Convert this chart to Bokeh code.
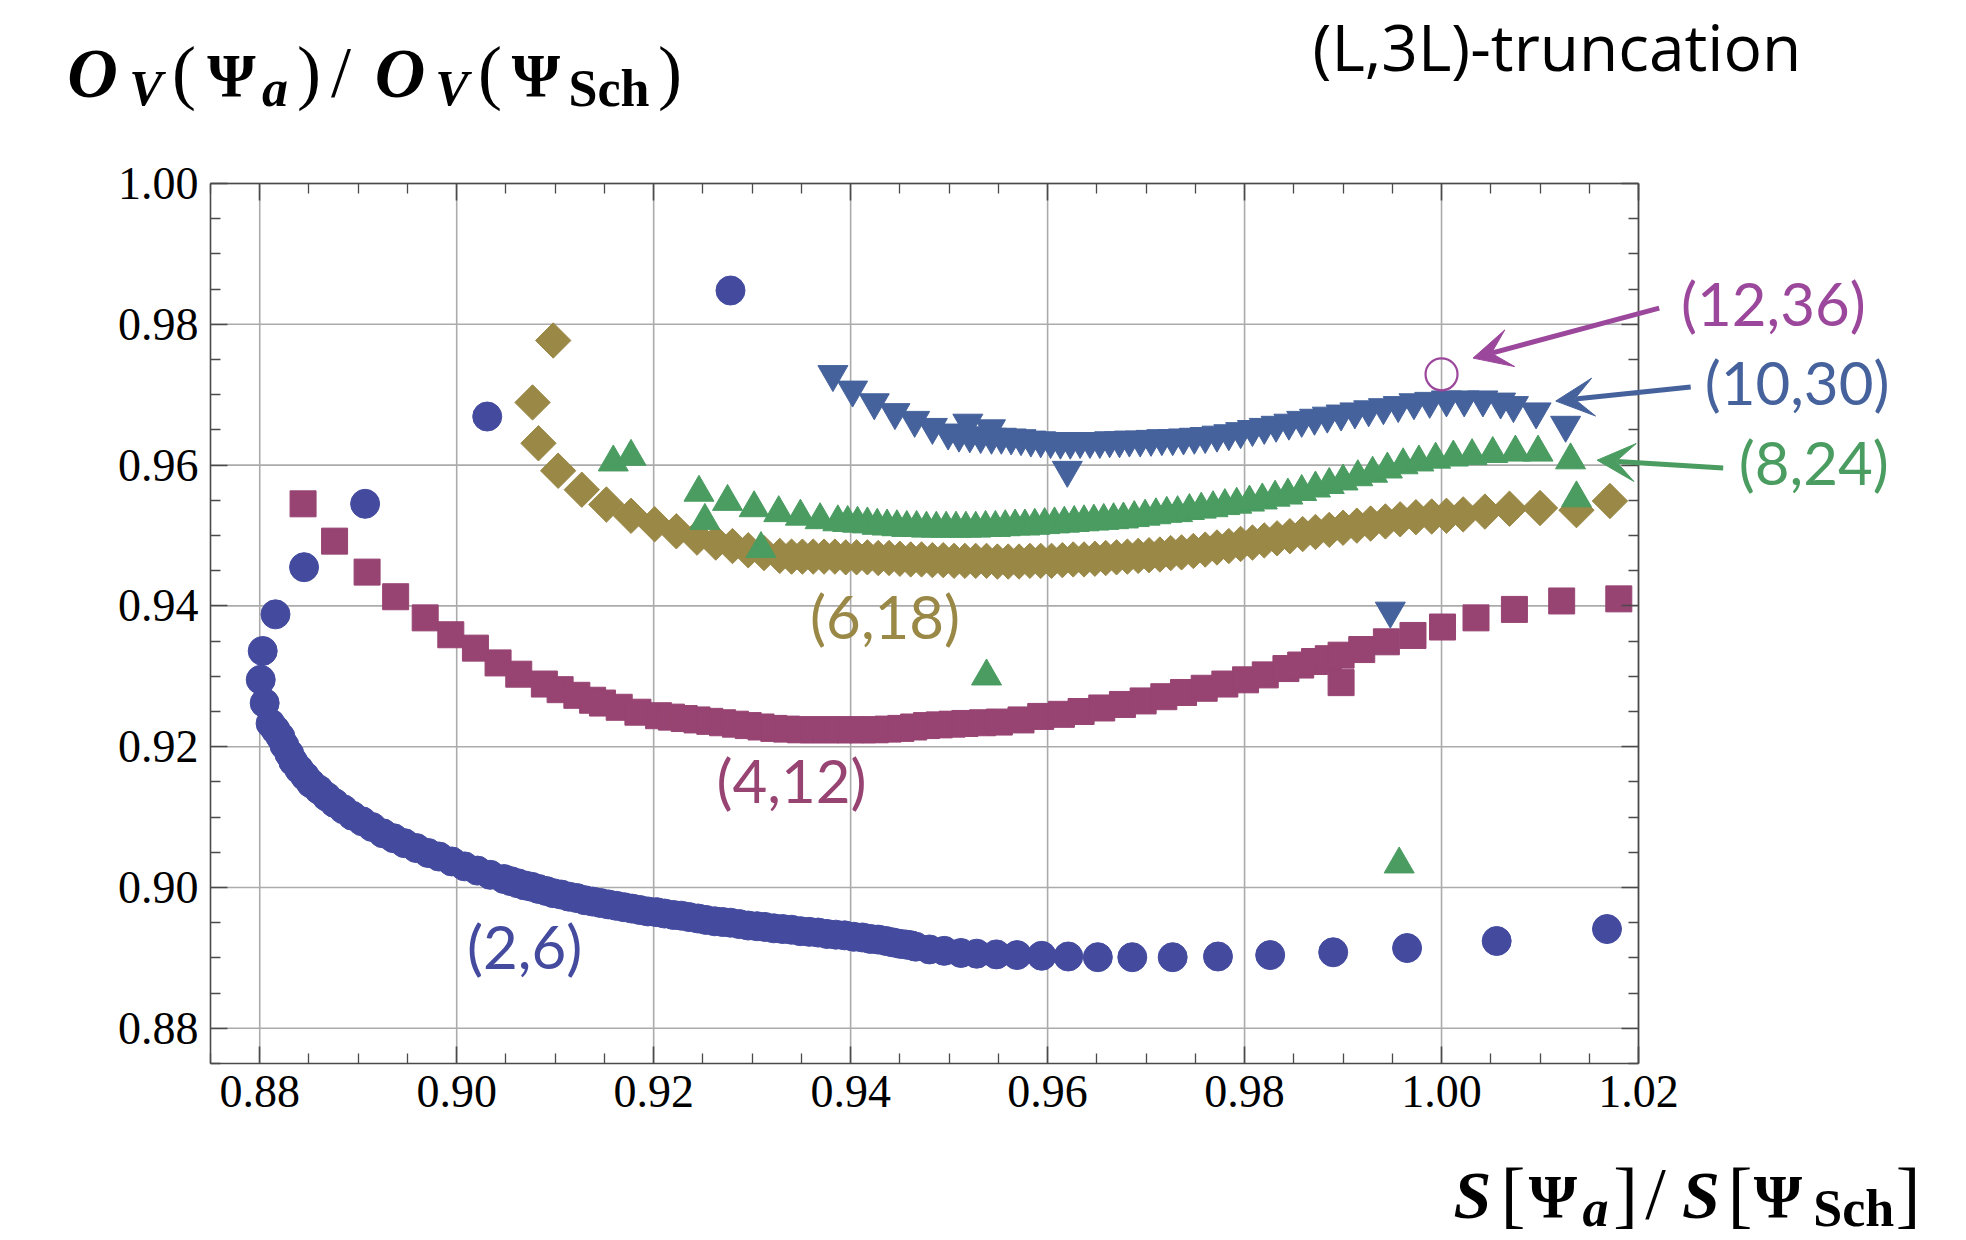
import numpy as np
from bokeh.plotting import figure
from bokeh.models import (FixedTicker, PrintfTickFormatter, LinearAxis, Label, Arrow,
                          VeeHead, Range1d)
from bokeh.embed import file_html
from bokeh.resources import INLINE

# ---------------- data ----------------
x_2_6 = [0.9278, 0.9031, 0.8907, 0.8845, 0.8816, 0.8803, 0.8801, 0.8805, 0.8811,
         0.8816, 0.8821, 0.8825, 0.8830, 0.8834, 0.8840, 0.8846, 0.8852, 0.8860, 0.8868,
         0.8876, 0.8885, 0.8894, 0.8904, 0.8914, 0.8925, 0.8936, 0.8947, 0.8959, 0.8971,
         0.8982, 0.8995, 0.9008, 0.9021, 0.9034, 0.9048, 0.9055, 0.9062, 0.9069, 0.9076,
         0.9083, 0.9091, 0.9098, 0.9106, 0.9114, 0.9122, 0.9130, 0.9138, 0.9146, 0.9154,
         0.9162, 0.9170, 0.9178, 0.9186, 0.9194, 0.9203, 0.9211, 0.9220, 0.9228, 0.9236,
         0.9245, 0.9253, 0.9262, 0.9270, 0.9278, 0.9287, 0.9296, 0.9305, 0.9313, 0.9322,
         0.9331, 0.9340, 0.9349, 0.9358, 0.9367, 0.9376, 0.9385, 0.9394, 0.9403, 0.9412,
         0.9420, 0.9428, 0.9436, 0.9443, 0.9450, 0.9456, 0.9461, 0.9466, 0.9480, 0.9495,
         0.9512, 0.9528, 0.9548, 0.9569, 0.9594, 0.9621, 0.9651, 0.9686, 0.9727, 0.9773,
         0.9826, 0.9890, 0.9965, 1.0056, 1.0168]
y_2_6 = [0.9848, 0.9669, 0.9545, 0.9455, 0.9388, 0.9336, 0.9295, 0.9262, 0.9233,
         0.9224, 0.9214, 0.9202, 0.9190, 0.9179, 0.9168, 0.9158, 0.9148, 0.9139, 0.9129,
         0.9120, 0.9111, 0.9102, 0.9094, 0.9086, 0.9077, 0.9070, 0.9063, 0.9056, 0.9049,
         0.9044, 0.9037, 0.9030, 0.9024, 0.9018, 0.9012, 0.9009, 0.9006, 0.9003, 0.9001,
         0.8998, 0.8995, 0.8992, 0.8990, 0.8987, 0.8985, 0.8982, 0.8980, 0.8978, 0.8976,
         0.8974, 0.8972, 0.8970, 0.8968, 0.8966, 0.8965, 0.8963, 0.8961, 0.8960, 0.8958,
         0.8956, 0.8954, 0.8952, 0.8951, 0.8950, 0.8948, 0.8946, 0.8945, 0.8944, 0.8942,
         0.8941, 0.8940, 0.8938, 0.8937, 0.8936, 0.8934, 0.8933, 0.8932, 0.8930, 0.8929,
         0.8927, 0.8926, 0.8924, 0.8922, 0.8920, 0.8919, 0.8918, 0.8916, 0.8912, 0.8910,
         0.8907, 0.8906, 0.8905, 0.8904, 0.8903, 0.8902, 0.8901, 0.8901, 0.8901, 0.8902,
         0.8904, 0.8908, 0.8914, 0.8924, 0.8941]

x_4_12 = [0.8844, 0.8876, 0.8909, 0.8938, 0.8968, 0.8994, 0.9019, 0.9042, 0.9063,
          0.9089, 0.9105, 0.9122, 0.9138, 0.9148, 0.9165, 0.9184, 0.9205, 0.9218, 0.9231,
          0.9244, 0.9257, 0.9270, 0.9283, 0.9296, 0.9309, 0.9322, 0.9335, 0.9349, 0.9362,
          0.9375, 0.9388, 0.9400, 0.9412, 0.9425, 0.9438, 0.9451, 0.9464, 0.9477, 0.9490,
          0.9503, 0.9516, 0.9534, 0.9551, 0.9573, 0.9593, 0.9614, 0.9634, 0.9655, 0.9676,
          0.9697, 0.9718, 0.9738, 0.9759, 0.9780, 0.9801, 0.9821, 0.9842, 0.9857, 0.9871,
          0.9885, 0.9898, 0.9919, 0.9944, 0.9971, 1.0001, 1.0035, 1.0074, 1.0122, 1.0180,
          0.9898]
y_4_12 = [0.9545, 0.9492, 0.9448, 0.9413, 0.9383, 0.9359, 0.9340, 0.9319, 0.9303,
          0.9289, 0.9281, 0.9273, 0.9266, 0.9262, 0.9256, 0.9249, 0.9244, 0.9242, 0.9240,
          0.9238, 0.9236, 0.9234, 0.9232, 0.9230, 0.9228, 0.9226, 0.9225, 0.9224, 0.9224,
          0.9224, 0.9224, 0.9224, 0.9224, 0.9224, 0.9225, 0.9226, 0.9228, 0.9230, 0.9231,
          0.9232, 0.9233, 0.9234, 0.9235, 0.9238, 0.9243, 0.9246, 0.9250, 0.9255, 0.9260,
          0.9265, 0.9271, 0.9277, 0.9283, 0.9289, 0.9295, 0.9302, 0.9311, 0.9316, 0.9321,
          0.9325, 0.9330, 0.9338, 0.9349, 0.9358, 0.9370, 0.9383, 0.9395, 0.9407, 0.9410,
          0.9291]

x_6_18 = [0.9098, 0.9077, 0.9083, 0.9103, 0.9127, 0.9152, 0.9177, 0.9201, 0.9223,
          0.9244, 0.9263, 0.9280, 0.9296, 0.9312, 0.9328, 0.9340, 0.9351, 0.9362, 0.9373,
          0.9384, 0.9395, 0.9406, 0.9417, 0.9428, 0.9439, 0.9450, 0.9461, 0.9472, 0.9483,
          0.9494, 0.9505, 0.9516, 0.9527, 0.9538, 0.9549, 0.9560, 0.9571, 0.9582, 0.9593,
          0.9604, 0.9615, 0.9626, 0.9637, 0.9648, 0.9659, 0.9670, 0.9681, 0.9692, 0.9703,
          0.9714, 0.9725, 0.9736, 0.9748, 0.9760, 0.9772, 0.9784, 0.9796, 0.9808, 0.9820,
          0.9833, 0.9846, 0.9859, 0.9872, 0.9886, 0.9900, 0.9914, 0.9928, 0.9943, 0.9958,
          0.9974, 0.9990, 1.0005, 1.0022, 1.0044, 1.0069, 1.0100, 1.0137, 1.0171]
y_6_18 = [0.9777, 0.9689, 0.9631, 0.9592, 0.9565, 0.9544, 0.9528, 0.9516, 0.9506,
          0.9497, 0.9490, 0.9485, 0.9479, 0.9475, 0.9471, 0.9470, 0.9470, 0.9470, 0.9470,
          0.9470, 0.9469, 0.9469, 0.9469, 0.9468, 0.9468, 0.9467, 0.9466, 0.9466, 0.9465,
          0.9465, 0.9464, 0.9464, 0.9464, 0.9464, 0.9463, 0.9463, 0.9463, 0.9464, 0.9464,
          0.9464, 0.9465, 0.9466, 0.9466, 0.9467, 0.9468, 0.9469, 0.9470, 0.9471, 0.9472,
          0.9473, 0.9475, 0.9476, 0.9478, 0.9480, 0.9483, 0.9485, 0.9488, 0.9490, 0.9493,
          0.9496, 0.9499, 0.9502, 0.9505, 0.9508, 0.9511, 0.9514, 0.9517, 0.9520, 0.9523,
          0.9526, 0.9527, 0.9528, 0.9530, 0.9534, 0.9538, 0.9539, 0.9536, 0.9549]

x_8_24 = [0.9159, 0.9177, 0.9246, 0.9252, 0.9275, 0.9309, 0.9302, 0.9327, 0.9349,
          0.9369, 0.9387, 0.9397, 0.9407, 0.9417, 0.9427, 0.9437, 0.9447, 0.9457, 0.9467,
          0.9477, 0.9487, 0.9497, 0.9507, 0.9517, 0.9527, 0.9537, 0.9547, 0.9557, 0.9567,
          0.9577, 0.9587, 0.9597, 0.9607, 0.9617, 0.9627, 0.9637, 0.9647, 0.9657, 0.9667,
          0.9677, 0.9688, 0.9699, 0.9710, 0.9721, 0.9732, 0.9744, 0.9756, 0.9768, 0.9780,
          0.9792, 0.9805, 0.9818, 0.9831, 0.9844, 0.9858, 0.9872, 0.9886, 0.9900, 0.9915,
          0.9930, 0.9945, 0.9961, 0.9977, 0.9994, 1.0012, 1.0031, 1.0052, 1.0075, 1.0098,
          1.0131, 1.0137, 0.9538, 0.9957]
y_8_24 = [0.9604, 0.9612, 0.9561, 0.9521, 0.9548, 0.9481, 0.9539, 0.9532, 0.9527,
          0.9522, 0.9519, 0.9518, 0.9517, 0.9516, 0.9514, 0.9513, 0.9512, 0.9511, 0.9511,
          0.9510, 0.9510, 0.9510, 0.9510, 0.9510, 0.9510, 0.9511, 0.9511, 0.9512, 0.9513,
          0.9513, 0.9514, 0.9515, 0.9516, 0.9517, 0.9518, 0.9519, 0.9520, 0.9521, 0.9522,
          0.9523, 0.9525, 0.9527, 0.9529, 0.9531, 0.9532, 0.9535, 0.9537, 0.9539, 0.9542,
          0.9544, 0.9547, 0.9550, 0.9554, 0.9557, 0.9562, 0.9567, 0.9572, 0.9577, 0.9583,
          0.9588, 0.9594, 0.9600, 0.9604, 0.9608, 0.9611, 0.9613, 0.9616, 0.9618, 0.9618,
          0.9607, 0.9553, 0.9300, 0.9033]

x_10_30 = [0.9382, 0.9402, 0.9424, 0.9445, 0.9465, 0.9483, 0.9499, 0.9510, 0.9521,
           0.9532, 0.9543, 0.9553, 0.9563, 0.9573, 0.9583, 0.9593, 0.9603, 0.9613, 0.9623,
           0.9633, 0.9643, 0.9653, 0.9663, 0.9673, 0.9683, 0.9694, 0.9705, 0.9716, 0.9727,
           0.9738, 0.9749, 0.9760, 0.9772, 0.9784, 0.9796, 0.9808, 0.9820, 0.9832, 0.9845,
           0.9858, 0.9871, 0.9884, 0.9898, 0.9912, 0.9926, 0.9941, 0.9956, 0.9972, 0.9988,
           1.0005, 1.0023, 1.0042, 1.0060, 1.0073, 1.0096, 1.0126,
           0.9519, 0.9542, 0.9620, 0.9948]
y_10_30 = [0.9729, 0.9707, 0.9689, 0.9675, 0.9664, 0.9654, 0.9646, 0.9643, 0.9642,
           0.9641, 0.9640, 0.9640, 0.9639, 0.9638, 0.9636, 0.9635, 0.9634, 0.9633, 0.9633,
           0.9634, 0.9634, 0.9634, 0.9635, 0.9635, 0.9636, 0.9636, 0.9637, 0.9638, 0.9638,
           0.9639, 0.9640, 0.9641, 0.9643, 0.9645, 0.9648, 0.9651, 0.9654, 0.9657, 0.9660,
           0.9664, 0.9667, 0.9670, 0.9673, 0.9676, 0.9679, 0.9682, 0.9685, 0.9689, 0.9691,
           0.9693, 0.9693, 0.9693, 0.9690, 0.9685, 0.9676, 0.9657,
           0.9660, 0.9652, 0.9593, 0.9393]

x_12_36 = [1.0000]
y_12_36 = [0.9729]

x_ticks = [0.88, 0.90, 0.92, 0.94, 0.96, 0.98, 1.00, 1.02]
y_ticks = [0.88, 0.90, 0.92, 0.94, 0.96, 0.98, 1.00]
x_minor = [0.875, 0.885, 0.89, 0.895, 0.905, 0.91, 0.915, 0.925, 0.93, 0.935, 0.945, 0.95,
           0.955, 0.965, 0.97, 0.975, 0.985, 0.99, 0.995, 1.005, 1.01, 1.015]
y_minor = [0.875, 0.885, 0.89, 0.895, 0.905, 0.91, 0.915, 0.925, 0.93, 0.935, 0.945, 0.95,
           0.955, 0.965, 0.97, 0.975, 0.985, 0.99, 0.995]
X_LIM = (0.875, 1.02)
Y_LIM = (0.875, 1.00)

series_labels = ["(2,6)", "(4,12)", "(6,18)", "(8,24)", "(10,30)", "(12,36)"]

# ---------------- style ----------------
C1 = "#444B9F"   # (2,6)
C2 = "#974472"   # (4,12)
C3 = "#9A8846"   # (6,18)
C4 = "#4A9C61"   # (8,24)
C5 = "#45629C"   # (10,30)
C6 = "#9B479B"   # (12,36)
AX = "#4a4a4a"

W, H = 1966, 1240
FL, FR, FT, FB = 210, 1638, 183, 1063   # plot-box edges in canvas px

# the frame covers the whole canvas so that nothing outside the box is clipped
sx = (FR - FL) / (X_LIM[1] - X_LIM[0])
sy = (FB - FT) / (Y_LIM[1] - Y_LIM[0])
x0 = X_LIM[0] - FL / sx
y1 = Y_LIM[1] + FT / sy
xr = Range1d(x0, x0 + W / sx)
yr = Range1d(y1 - H / sy, y1)

p = figure(width=W, height=H, x_range=xr, y_range=yr,
           output_backend="svg", toolbar_location=None,
           min_border=0, min_border_left=0, min_border_right=0,
           min_border_top=0, min_border_bottom=0,
           x_axis_type=None, y_axis_type=None)
p.title.visible = False
p.outline_line_color = None
p.background_fill_color = "white"
p.border_fill_color = "white"
p.xgrid.visible = False
p.ygrid.visible = False

xt = FixedTicker(ticks=x_ticks, minor_ticks=x_minor)
yt = FixedTicker(ticks=y_ticks, minor_ticks=y_minor)


def make_axis(ticker, loc, bounds, labels):
    ax = LinearAxis(ticker=ticker, formatter=PrintfTickFormatter(format="%.2f"),
                    fixed_location=loc, bounds=bounds)
    ax.major_tick_in = 17
    ax.major_tick_out = 0
    ax.minor_tick_in = 10
    ax.minor_tick_out = 0
    ax.axis_line_color = AX
    ax.axis_line_width = 1.6
    ax.major_tick_line_color = AX
    ax.major_tick_line_width = 1.6
    ax.minor_tick_line_color = AX
    ax.minor_tick_line_width = 1.3
    ax.major_label_text_font = "Liberation Serif"
    ax.major_label_text_font_size = "46px"
    ax.major_label_text_color = "black" if labels else None
    ax.major_label_standoff = 12
    return ax


# grid lines at the major ticks, inside the box
p.segment(x0=x_ticks, y0=[Y_LIM[0]] * len(x_ticks), x1=x_ticks, y1=[Y_LIM[1]] * len(x_ticks),
          line_color="#ababab", line_width=1.6)
p.segment(x0=[X_LIM[0]] * len(y_ticks), y0=y_ticks, x1=[X_LIM[1]] * len(y_ticks), y1=y_ticks,
          line_color="#ababab", line_width=1.6)

p.scatter(x_2_6, y_2_6, marker="circle", size=29, color=C1)
p.scatter(x_4_12, y_4_12, marker="square", size=26, color=C2)
p.scatter(x_6_18, y_6_18, marker="square", angle=np.pi / 4, size=25, color=C3)
p.scatter(x_8_24, y_8_24, marker="triangle", size=30, color=C4)
p.scatter(x_10_30, y_10_30, marker="inverted_triangle", size=30, color=C5)
p.scatter(x_12_36, y_12_36, marker="circle", size=32, fill_color=None,
          line_color=C6, line_width=2.2)

p.add_layout(make_axis(xt, Y_LIM[0], X_LIM, True), "below")
p.add_layout(make_axis(yt, X_LIM[0], Y_LIM, True), "left")
p.add_layout(make_axis(xt, Y_LIM[1], X_LIM, False), "above")
p.add_layout(make_axis(yt, X_LIM[1], Y_LIM, False), "right")

LBL_FONT = "Lato"
LBL_SIZE = "60px"

# series labels inside the box
for txt, x, y, c in ((series_labels[0], 0.9069, 0.8917, C1),
                     (series_labels[1], 0.9340, 0.9152, C2),
                     (series_labels[2], 0.9435, 0.9386, C3)):
    p.add_layout(Label(x=x, y=y, text=txt, text_font=LBL_FONT, text_font_size=LBL_SIZE,
                       text_color=c, text_align="center", text_baseline="middle"))

# arrows + labels to the right of the box
for txt, xs, ys, xe, ye, xl, yl, c in (
        (series_labels[5], 1.0221, 0.9823, 1.0032, 0.9752, 1.0337, 0.9830, C6),
        (series_labels[4], 1.0253, 0.9711, 1.0116, 0.9691, 1.0361, 0.9718, C5),
        (series_labels[3], 1.0286, 0.9596, 1.0158, 0.9607, 1.0378, 0.9604, C4)):
    p.add_layout(Arrow(end=VeeHead(size=38, fill_color=c, line_color=c),
                       x_start=xs, y_start=ys, x_end=xe, y_end=ye,
                       line_color=c, line_width=5))
    p.add_layout(Label(x=xl, y=yl, text=txt, text_font=LBL_FONT, text_font_size=LBL_SIZE,
                       text_color=c, text_align="center", text_baseline="middle"))


def piece(text, xc, base, size, style, font="Liberation Serif", color="black",
          align="center", shift=0.35):
    # shift compensates the renderer's offset of the alphabetic baseline
    base_spec = base - shift * size
    p.add_layout(Label(x=xc, y=H - base_spec, x_units="screen", y_units="screen",
                       text=text, text_font=font, text_font_size=f"{size}px",
                       text_font_style=style, text_color=color,
                       text_align=align, text_baseline="alphabetic"))


# title (kept fully inside the page)
piece("(L,3L)-truncation", 1312, 72, 64, "normal", font="Open Sans", align="left", shift=0.4)

# y-axis label  O_V(Psi_a)/O_V(Psi_Sch)
piece("O", 92, 97, 70, "bold italic")
piece("V", 145.5, 105, 50, "bold italic")
piece("(", 183.5, 97, 72, "normal")
piece("\u03a8", 231, 96, 62, "bold")
piece("a", 274.5, 106, 52, "bold italic")
piece(")", 308.5, 97, 72, "normal")
piece("/", 340.5, 97, 72, "normal")
piece("O", 399.5, 97, 70, "bold italic")
piece("V", 451.5, 105, 50, "bold italic")
piece("(", 489.5, 97, 72, "normal")
piece("\u03a8", 535.5, 96, 62, "bold")
piece("Sch", 608.5, 106, 52, "bold")
piece(")", 669.5, 97, 72, "normal")

# x-axis label  S[Psi_a]/S[Psi_Sch]
piece("S", 1472, 1218, 68, "bold italic")
piece("[", 1512.5, 1219, 74, "normal")
piece("\u03a8", 1552.5, 1217, 62, "bold")
piece("a", 1595, 1226, 52, "bold italic")
piece("]", 1625, 1219, 74, "normal")
piece("/", 1655, 1219, 74, "normal")
piece("S", 1700.4, 1218, 68, "bold italic")
piece("[", 1739.5, 1219, 74, "normal")
piece("\u03a8", 1777.5, 1217, 62, "bold")
piece("Sch", 1853.3, 1226, 52, "bold")
piece("]", 1907.5, 1219, 74, "normal")

open("out.html", "w").write(file_html(p, INLINE))
